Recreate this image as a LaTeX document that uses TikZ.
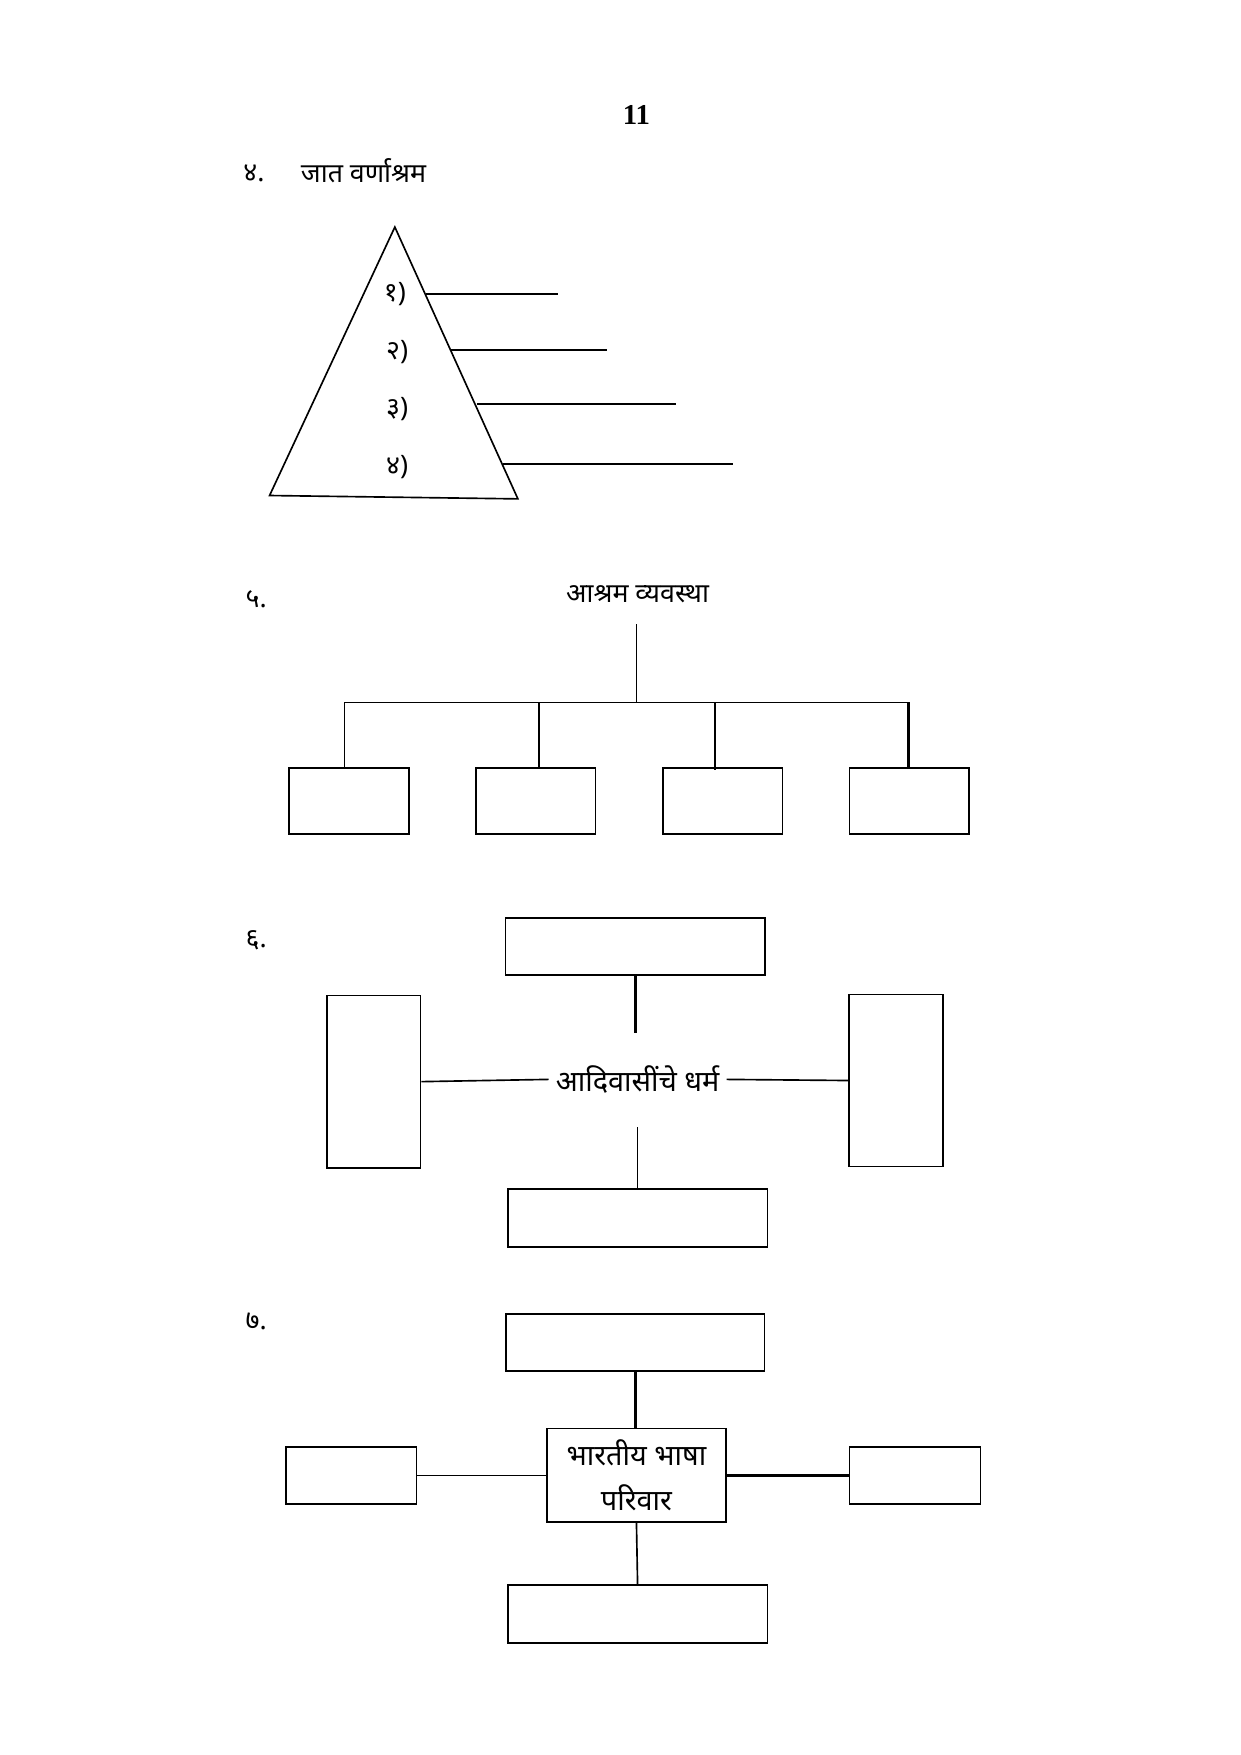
\documentclass[tikz,border=0pt]{standalone}
\usepackage{fontspec}
\setmainfont{Liberation Serif}
\newfontfamily\deva[Script=Devanagari]{Noto Sans}
\usetikzlibrary{positioning}
\begin{document}
\begin{tikzpicture}[x=0.01909cm, y=-0.01909cm,
    blank/.style={draw, thick, inner sep=0pt},
    lbl/.style={font=\deva\fontsize{13}{16}\selectfont},
    head/.style={font=\deva\bfseries\fontsize{13}{16}\selectfont}]
  \useasboundingbox (-3,-3) rectangle (1106,1566);
  \node [font=\bfseries\fontsize{14}{16}\selectfont] (pageno) at (566,100) {11};

  % 4. pyramid
  \node [lbl] (q4) at (224,152) {४.};
  \node [head] (q4t) at (322,150) {जात वर्णाश्रम};
  \draw [thick] (350,200) -- (460,443) -- (238,440) -- cycle;
  \node [lbl] (v1) at (350,260) {१)};
  \node [lbl] (v2) at (352,312) {२)};
  \node [lbl] (v3) at (352,363) {३)};
  \node [lbl] (v4) at (352,415) {४)};
  \coordinate (e1) at (378,260); \coordinate (f1) at (496,260);
  \coordinate (e2) at (400,310); \coordinate (f2) at (540,310);
  \coordinate (e3) at (423,358); \coordinate (f3) at (601,358);
  \coordinate (e4) at (447,412); \coordinate (f4) at (652,412);
  \draw [thick] (e1) -- (f1);
  \draw [thick] (e2) -- (f2);
  \draw [thick] (e3) -- (f3);
  \draw [very thick] (e4) -- (f4);

  % 5. ashram tree
  \node [lbl] (q5) at (226,533) {५.};
  \node [head] (ashram) at (567,528) {आश्रम व्यवस्था};
  \coordinate (bus) at (566,625);
  \foreach \n/\x in {a/309, b/476, c/643, d/810} {
    \node [blank, minimum width=2.04cm, minimum height=1.13cm] (box\n) at (\x,713) {};
  }
  \draw [thick] (566,555) -- (bus);
  \draw [thick] (305,625) -- (809,625);
  \draw [thick] (305,625) -- (305,683);
  \draw [thick] (479,625) -- (479,683);
  \draw [thick] (636,625) -- (636,685);
  \draw [very thick] (809,625) -- (809,683);

  % 6. tribal religions
  \node [lbl] (q6) at (226,838) {६.};
  \node [font=\deva\fontsize{14}{16}\selectfont] (dharm) at (567,962) {आदिवासींचे धर्म};
  \node [blank, minimum width=4.43cm, minimum height=0.97cm] (top6) at (565,843) {};
  \node [blank, minimum width=1.6cm, minimum height=2.94cm] (left6) at (331,964) {};
  \node [blank, minimum width=1.6cm, minimum height=2.94cm] (right6) at (798,963) {};
  \node [blank, minimum width=4.43cm, minimum height=0.99cm] (bot6) at (567,1086) {};
  \draw [very thick] (top6.south) -- ++(0,51);
  \draw [thick] (left6.east) -- (dharm.west);
  \draw [thick] (dharm.east) -- (right6.west);
  \draw [thick] (bot6.north) -- ++(0,-55);

  % 7. language families
  \node [lbl] (q7) at (226,1178) {७.};
  \node [blank, minimum width=4.41cm, minimum height=0.97cm] (top7) at (565,1197) {};
  \node [blank, minimum width=3.05cm, minimum height=1.6cm, align=center,
         font=\deva\fontsize{14}{22}\selectfont] (lang) at (566,1316) {भारतीय भाषा\\परिवार};
  \node [blank, minimum width=2.23cm, minimum height=0.97cm] (left7) at (311,1316) {};
  \node [blank, minimum width=2.23cm, minimum height=0.97cm] (right7) at (815,1316) {};
  \node [blank, minimum width=4.43cm, minimum height=0.99cm] (bot7) at (567,1440) {};
  \draw [very thick] (top7.south) -- (lang.north -| top7.south);
  \draw [thick] (left7.east) -- (lang.west);
  \draw [very thick] (lang.east) -- (right7.west);
  \draw [thick] (lang.south) -- (bot7.north);
\end{tikzpicture}
\end{document}
